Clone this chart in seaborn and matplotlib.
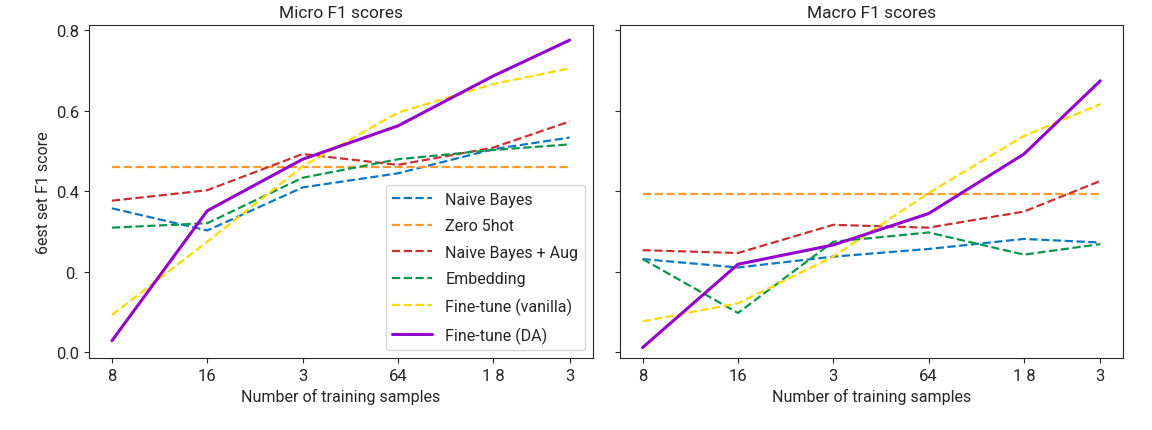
import numpy as np
import pandas as pd
import matplotlib
matplotlib.use("Agg")
import matplotlib.pyplot as plt
import seaborn as sns

# -----------------------------
# Data
sample_sizes = [8, 16, 32, 64, 128, 223]
x_tick_labels = ["8", "16", "3", "64", "1 8", "3"]
y_ticks = [0.0, 0.2, 0.4, 0.6, 0.8]
y_tick_labels = ["0.0", "0.", "0.4", "0.6", "0.8"]

runs = ["Naive Bayes", "Zero 5hot", "Naive Bayes + Aug", "Embedding",
        "Fine-tune (vanilla)", "Fine-tune (DA)"]

micro_nb = [0.358, 0.303, 0.410, 0.445, 0.505, 0.534]
micro_zero = [0.461, 0.461, 0.461, 0.461, 0.461, 0.461]
micro_nb_aug = [0.377, 0.403, 0.493, 0.466, 0.509, 0.574]
micro_embed = [0.310, 0.321, 0.434, 0.480, 0.503, 0.517]
micro_ft = [0.093, 0.275, 0.462, 0.596, 0.667, 0.706]
micro_ft_da = [0.029, 0.352, 0.480, 0.563, 0.687, 0.776]

macro_nb = [0.232, 0.211, 0.238, 0.257, 0.282, 0.273]
macro_zero = [0.393, 0.393, 0.393, 0.393, 0.393, 0.393]
macro_nb_aug = [0.254, 0.247, 0.317, 0.310, 0.350, 0.426]
macro_embed = [0.232, 0.098, 0.275, 0.298, 0.243, 0.269]
macro_ft = [0.077, 0.122, 0.238, 0.396, 0.538, 0.617]
macro_ft_da = [0.012, 0.219, 0.267, 0.345, 0.493, 0.675]

micro_scores = [micro_nb, micro_zero, micro_nb_aug, micro_embed, micro_ft, micro_ft_da]
macro_scores = [macro_nb, macro_zero, macro_nb_aug, macro_embed, macro_ft, macro_ft_da]

colors = ["#0b77c5", "#ff9a2e", "#cc2f33", "#0a964a", "#ffd900", "#9400cc"]
current_model = "Fine-tune (DA)"

# -----------------------------
# Style Settings
sns.set_style("ticks")
plt.rcParams["font.family"] = ["Roboto", "DejaVu Sans"]
plt.rcParams["font.size"] = 12

fig, (ax0, ax1) = plt.subplots(1, 2, figsize=(11.52, 4.31), dpi=100, sharey=True)
fig.subplots_adjust(left=0.0773, right=0.975, top=0.940, bottom=0.167, wspace=0.054)

for run, micro, macro, col in zip(runs, micro_scores, macro_scores, colors):
    if run == current_model:
        kw = dict(linewidth=2.2, linestyle="-")
    else:
        kw = dict(linewidth=1.6, linestyle="--")
    sns.lineplot(x=sample_sizes, y=micro, ax=ax0, label=run, color=col, **kw)
    sns.lineplot(x=sample_sizes, y=macro, ax=ax1, color=col, legend=False, **kw)

ax0.set_title("Micro F1 scores", fontsize=12.5)
ax1.set_title("Macro F1 scores", fontsize=12.5)
ax0.set_ylabel("6est set F1 score", fontsize=11.5)
ax0.legend(loc="lower right", fontsize=11.5, labelspacing=0.72, handlelength=2.5)

for ax in [ax0, ax1]:
    ax.set_xlabel("Number of training samples", fontsize=11.5)
    ax.set_xscale("log")
    ax.set_xticks(sample_sizes)
    ax.set_xticklabels(x_tick_labels, fontsize=12)
    ax.minorticks_off()
    ax.set_ylim(-0.014, 0.814)
    ax.set_yticks(y_ticks)

ax0.set_yticklabels(y_tick_labels, fontsize=12)

plt.savefig("out.png", dpi=100)
